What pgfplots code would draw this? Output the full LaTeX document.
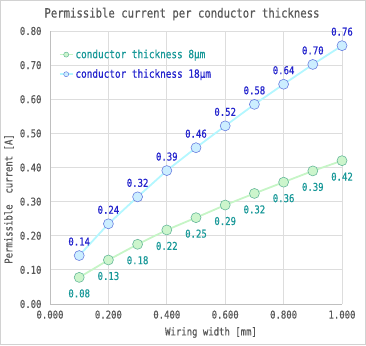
\documentclass[border=0pt]{standalone}
\usepackage{fontspec}
\setmainfont{DejaVu Sans Mono}[FakeStretch=0.83, FakeBold=0.6]
\usepackage{pgfplots}
\pgfplotsset{compat=1.18}
\definecolor{txt}{HTML}{595959}
\definecolor{gridc}{HTML}{DDDDDD}
\definecolor{axc}{HTML}{BFBFBF}
\definecolor{gline}{HTML}{C6F5C6}
\definecolor{gfill}{HTML}{CCF5CC}
\definecolor{gedge}{HTML}{66B89A}
\definecolor{bline}{HTML}{B3F7FF}
\definecolor{bfill}{HTML}{CCEEFF}
\definecolor{bedge}{HTML}{6A80E0}
\definecolor{tealtxt}{HTML}{189898}
\definecolor{bluetxt}{HTML}{2222CC}
\newcommand{\fs}{\fontsize{10.8pt}{12pt}\selectfont}
\newcommand{\fl}{\fontsize{11.3pt}{12pt}\selectfont}
\begin{document}
\begin{tikzpicture}
\useasboundingbox (0,0) rectangle (366pt,345pt);
\draw[gray!35, line width=0.8pt] (0.5pt,0.5pt) rectangle (365.5pt,344.5pt);
\begin{axis}[
  at={(50pt,41pt)}, anchor=south west,
  scale only axis, width=292pt, height=273pt,
  xmin=0, xmax=1, ymin=0, ymax=0.8,
  xtick={0,0.2,0.4,0.6,0.8,1},
  ytick={0,0.1,0.2,0.3,0.4,0.5,0.6,0.7,0.8},
  axis lines=left, axis line style={-, axc, line width=0.8pt},
  grid=major, grid style={gridc, line width=0.8pt},
  major tick length=0pt,
  clip=false,
  /pgf/number format/assume math mode=true,
  xticklabel style={/pgf/number format/.cd, fixed, fixed zerofill, precision=3, /tikz/.cd, font=\fs, text=txt, yshift=-3pt},
  yticklabel style={/pgf/number format/.cd, fixed, fixed zerofill, precision=2, /tikz/.cd, font=\fs, text=txt, xshift=-5pt},
  legend style={at={(0.03,0.94)}, anchor=north west, draw=none, fill=none, font=\fl, row sep=5.5pt, inner sep=0pt},
  legend cell align=left,
]
\addplot[gline, line width=1.8pt, mark=*, mark size=5pt, mark options={draw=gedge, fill=gfill, line width=0.6pt},
  nodes near coords, point meta=explicit symbolic,
  every node near coord/.style={anchor=center, yshift=-16pt, font=\fs, text=tealtxt},
  legend image code/.code={\draw[gline, line width=1.5pt] (0pt,0pt)--(13pt,0pt); \draw[gedge, fill=gfill, line width=0.5pt] (6.5pt,0pt) circle (2.5pt);}]
coordinates {
(0.1,0.078) [0.08]
(0.2,0.129) [0.13]
(0.3,0.175) [0.18]
(0.4,0.217) [0.22]
(0.5,0.253) [0.25]
(0.6,0.290) [0.29]
(0.7,0.324) [0.32]
(0.8,0.357) [0.36]
(0.9,0.390) [0.39]
(1.0,0.420) [0.42]
};
\addlegendentry{\textcolor{tealtxt}{conductor thickness 8µm}}
\addplot[bline, line width=1.8pt, mark=*, mark size=5pt, mark options={draw=bedge, fill=bfill, line width=0.6pt},
  nodes near coords, point meta=explicit symbolic,
  every node near coord/.style={anchor=center, yshift=14pt, font=\fs, text=bluetxt},
  legend image code/.code={\draw[bline, line width=1.5pt] (0pt,0pt)--(13pt,0pt); \draw[bedge, fill=bfill, line width=0.5pt] (6.5pt,0pt) circle (2.5pt);}]
coordinates {
(0.1,0.142) [0.14]
(0.2,0.235) [0.24]
(0.3,0.314) [0.32]
(0.4,0.391) [0.39]
(0.5,0.458) [0.46]
(0.6,0.522) [0.52]
(0.7,0.585) [0.58]
(0.8,0.644) [0.64]
(0.9,0.702) [0.70]
(1.0,0.757) [0.76]
};
\addlegendentry{\textcolor{bluetxt}{conductor thickness 18µm}}
\end{axis}
\node[text=txt, font=\fontsize{12.8pt}{14pt}\selectfont] at (182pt,331pt) {Permissible current per conductor thickness};
\node[text=txt, font=\fs, rotate=90] at (9pt,146pt) {Permissible~~current [A]};
\node[text=txt, font=\fs] at (211pt,12.5pt) {Wiring width [mm]};
\end{tikzpicture}
\end{document}
